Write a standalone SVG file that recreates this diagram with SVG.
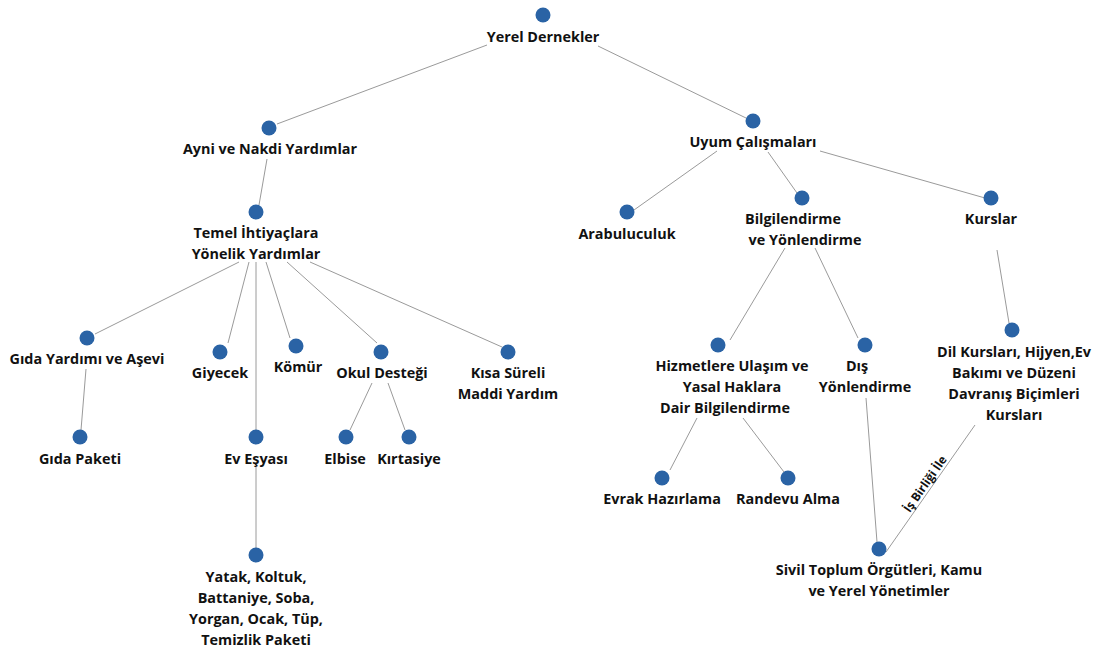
<svg xmlns="http://www.w3.org/2000/svg" width="1093" height="649" viewBox="0 0 1093 649">
<style>
.n circle{fill:#2a63a5}
.n text{font-family:"Open Sans","Noto Sans",sans-serif;font-weight:700;font-size:14.4px;fill:#111;text-anchor:middle}
#edges line{stroke:#9a9a9a;stroke-width:1}
.el{font-family:"Open Sans","Noto Sans",sans-serif;font-weight:700;font-size:12px;fill:#111;text-anchor:middle}
</style>
<rect width="1093" height="649" fill="#fff"/>
<g id="edges">
<line x1="487" y1="45" x2="277" y2="124"/>
<line x1="598" y1="46" x2="746" y2="118"/>
<line x1="267" y1="159" x2="259" y2="205"/>
<line x1="717" y1="151" x2="634" y2="210"/>
<line x1="768" y1="152" x2="797" y2="193"/>
<line x1="820" y1="151" x2="985" y2="198"/>
<line x1="239" y1="262" x2="95" y2="334"/>
<line x1="249" y1="262" x2="228" y2="343"/>
<line x1="256" y1="262" x2="256" y2="430"/>
<line x1="266" y1="262" x2="290" y2="338"/>
<line x1="287" y1="262" x2="377" y2="343"/>
<line x1="310" y1="262" x2="502" y2="347"/>
<line x1="86" y1="369" x2="81" y2="430"/>
<line x1="256" y1="467" x2="256" y2="548"/>
<line x1="372" y1="383" x2="350" y2="430"/>
<line x1="388" y1="383" x2="405" y2="430"/>
<line x1="785" y1="248" x2="730" y2="340"/>
<line x1="815" y1="248" x2="858" y2="338"/>
<line x1="997" y1="250" x2="1009" y2="323"/>
<line x1="697" y1="418" x2="670" y2="470"/>
<line x1="743" y1="418" x2="784" y2="472"/>
<line x1="866" y1="398" x2="877" y2="542"/>
<line x1="975" y1="425" x2="886" y2="552"/>
<text class="el" transform="translate(931 488) rotate(-55)" y="-3">İş Birliği İle</text>
</g>
<g id="n-yerel" class="n"><circle cx="543" cy="15" r="7.5"/><text x="543" y="42">Yerel Dernekler</text></g>
<g id="n-ayni" class="n"><circle cx="269" cy="128" r="7.5"/><text x="270" y="154">Ayni ve Nakdi Yardımlar</text></g>
<g id="n-uyum" class="n"><circle cx="753" cy="121" r="7.5"/><text x="753" y="147">Uyum Çalışmaları</text></g>
<g id="n-temel" class="n"><circle cx="256" cy="212" r="7.5"/><text x="256" y="238">Temel İhtiyaçlara</text><text x="256" y="259">Yönelik Yardımlar</text></g>
<g id="n-arabuluculuk" class="n"><circle cx="627" cy="212" r="7.5"/><text x="627" y="239">Arabuluculuk</text></g>
<g id="n-bilgilendirme" class="n"><circle cx="802" cy="198" r="7.5"/><text x="793" y="224">Bilgilendirme</text><text x="805" y="245">ve Yönlendirme</text></g>
<g id="n-kurslar" class="n"><circle cx="991" cy="198" r="7.5"/><text x="991" y="224">Kurslar</text></g>
<g id="n-gida" class="n"><circle cx="87" cy="338" r="7.5"/><text x="87" y="364">Gıda Yardımı ve Aşevi</text></g>
<g id="n-giyecek" class="n"><circle cx="220" cy="352" r="7.5"/><text x="220" y="378">Giyecek</text></g>
<g id="n-komur" class="n"><circle cx="296" cy="346" r="7.5"/><text x="298" y="372">Kömür</text></g>
<g id="n-okul" class="n"><circle cx="381" cy="352" r="7.5"/><text x="382" y="378">Okul Desteği</text></g>
<g id="n-kisa" class="n"><circle cx="508" cy="352" r="7.5"/><text x="508" y="378">Kısa Süreli</text><text x="508" y="399">Maddi Yardım</text></g>
<g id="n-gidapaketi" class="n"><circle cx="80" cy="437" r="7.5"/><text x="80" y="464">Gıda Paketi</text></g>
<g id="n-evesyasi" class="n"><circle cx="256" cy="437" r="7.5"/><text x="256" y="464">Ev Eşyası</text></g>
<g id="n-elbise" class="n"><circle cx="346" cy="437" r="7.5"/><text x="345" y="464">Elbise</text></g>
<g id="n-kirtasiye" class="n"><circle cx="409" cy="437" r="7.5"/><text x="409" y="464">Kırtasiye</text></g>
<g id="n-yatak" class="n"><circle cx="256" cy="555" r="7.5"/><text x="256" y="582">Yatak, Koltuk,</text><text x="256" y="603">Battaniye, Soba,</text><text x="256" y="624">Yorgan, Ocak, Tüp,</text><text x="256" y="645">Temizlik Paketi</text></g>
<g id="n-hizmetlere" class="n"><circle cx="718" cy="345" r="7.5"/><text x="732" y="371">Hizmetlere Ulaşım ve</text><text x="732" y="392">Yasal Haklara</text><text x="725" y="413">Dair Bilgilendirme</text></g>
<g id="n-dis" class="n"><circle cx="865" cy="345" r="7.5"/><text x="857" y="371">Dış</text><text x="865" y="392">Yönlendirme</text></g>
<g id="n-dil" class="n"><circle cx="1012" cy="330" r="7.5"/><text x="1014" y="357">Dil Kursları, Hijyen,Ev</text><text x="1014" y="378">Bakımı ve Düzeni</text><text x="1014" y="399">Davranış Biçimleri</text><text x="1014" y="420">Kursları</text></g>
<g id="n-evrak" class="n"><circle cx="662" cy="478" r="7.5"/><text x="662" y="504">Evrak Hazırlama</text></g>
<g id="n-randevu" class="n"><circle cx="788" cy="478" r="7.5"/><text x="788" y="504">Randevu Alma</text></g>
<g id="n-sivil" class="n"><circle cx="879" cy="549" r="7.5"/><text x="879" y="575">Sivil Toplum Örgütleri, Kamu</text><text x="879" y="596">ve Yerel Yönetimler</text></g>
</svg>
